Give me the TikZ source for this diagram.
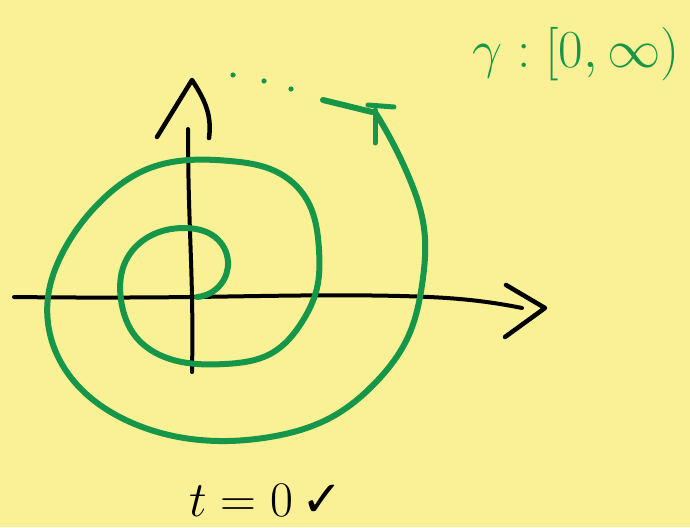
\documentclass[tikz,border=0pt]{standalone}
\usepackage{fontspec}
\usetikzlibrary{hobby}
\newfontfamily\djv{DejaVu Sans}
\definecolor{bg}{RGB}{250,240,150}
\definecolor{pen}{RGB}{22,150,72}
\begin{document}
\begin{tikzpicture}[x=1pt,y=-1pt,
  greenpen/.style={draw=pen,line width=6pt,line cap=round,line join=round},
  ink/.style={draw=black,line width=4pt,line cap=round,line join=round},
  inkhead/.style={draw=black,line width=4.5pt,line cap=round,line join=round}]
\fill[bg] (0,0) rectangle (690,527);
\useasboundingbox (0,0) rectangle (690,527);
% axes
\coordinate (origin) at (192,297);
\coordinate (start) at (197,297);
\coordinate (xstart) at (14,297);
\coordinate (xend) at (522,308);
\coordinate (ystart) at (192,372);
\coordinate (yend) at (188,129);
\coordinate (tip) at (375,112);
\draw[ink,use Hobby shortcut] (xstart) .. (origin) .. (400,296) .. (470,300) .. (xend);
\draw[inkhead] (506,285) -- (545,308) -- (505,337);
\draw[ink,use Hobby shortcut] (ystart) .. (origin) .. (189,200) .. (yend);
\draw[inkhead] (157,137) -- (192,80) .. controls (205,100) and (212,115) .. (209,138);
% spiral
\draw[greenpen,use Hobby shortcut] (start) .. (221,284) .. (228,262) .. (215,237) .. (185,228)
 .. (145,239) .. (124,265) .. (121,300) .. (136,337) .. (170,359) .. (225,364)
 .. (272,353) .. (302,322) .. (317,288) .. (319,250) .. (307,200) .. (275,171)
 .. (230,161) .. (150,168) .. (100,202) .. (64,250) .. (48,297) .. (55,350)
 .. (82,390) .. (130,422) .. (200,440) .. (270,437) .. (330,418) .. (378,380)
 .. (408,337) .. (422,285) .. (424,228) .. (408,175) .. (tip);
\draw[greenpen] (323,100) -- (372,112);
\draw[greenpen,line width=5pt] (368,105) -- (394,107);
\draw[greenpen,line width=5pt] (375,110) -- (375,143);
% dots
\fill[pen] (233,75) circle (2.6);
\fill[pen] (264,81) circle (2.6);
\fill[pen] (291,89) circle (2.6);
% labels
\node[text=pen,anchor=center,inner sep=0] (gamma) at (576,54) {\scalebox{2.15}{\Huge $\gamma:[0,\infty)$}};
\node[text=black,anchor=center,inner sep=0] (tlabel) at (266,500) {\scalebox{2.0}{\Huge $t=0$\,{\djv ✓}}};
\end{tikzpicture}
\end{document}
